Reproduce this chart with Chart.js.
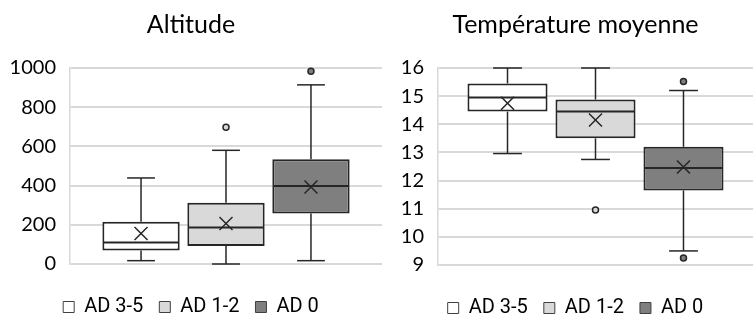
<!DOCTYPE html>
<html>
<head>
<meta charset="utf-8">
<script src="https://cdn.jsdelivr.net/npm/chart.js@4.4.0/dist/chart.umd.min.js"></script>
<style>
    html, body { margin: 0; padding: 0; background: #fff; overflow: hidden; width: 753px; height: 325px; }
    .wrap { position: absolute; top: 0; }
    #wrapAlt { left: 0; }
    #wrapTemp { left: 398px; }
</style>
</head>
<body>
<div class="wrap" id="wrapAlt"><canvas id="chartAlt" width="390" height="327"></canvas></div>
<div class="wrap" id="wrapTemp"><canvas id="chartTemp" width="355" height="328"></canvas></div>
<script>
// Groupes (séries)
const groups = ['AD 3-5', 'AD 1-2', 'AD 0'];

// Altitude (m)
const altMin = [17, 0, 17];
const altQ1 = [69, 92, 258];
const altMedian = [110, 186, 398];
const altQ3 = [215, 312, 534];
const altMax = [439, 580, 914];
const altMean = [156, 207, 393];
const altOutliers = [[], [698], [983]];
const altTicks = [0, 200, 400, 600, 800, 1000];

// Température moyenne (°C)
const tempMin = [12.96, 12.75, 9.5];
const tempQ1 = [14.45, 13.5, 11.65];
const tempMedian = [14.95, 14.45, 12.45];
const tempQ3 = [15.45, 14.88, 13.2];
const tempMax = [16, 16, 15.2];
const tempMean = [14.75, 14.15, 12.48];
const tempOutliers = [[], [10.95], [15.52, 9.25]];
const tempTicks = [9, 10, 11, 12, 13, 14, 15, 16];

// Styles
const fillColors = ['#ffffff', '#d9d9d9', '#7f7f7f'];
const lineColor = '#262626';
const gridColor = '#d9d9d9';

Chart.defaults.font.family = 'Lato, "Open Sans", sans-serif';
Chart.defaults.color = '#262626';

// Moustaches, médiane, moyenne et points isolés
function makeBoxPlugin(stats) {
    return {
        id: 'boxPlot',
        afterDatasetsDraw(chart) {
            const ctx = chart.ctx;
            const y = chart.scales.y;
            const line = (x1, y1, x2, y2) => {
                ctx.beginPath();
                ctx.moveTo(x1, y1);
                ctx.lineTo(x2, y2);
                ctx.stroke();
            };
            ctx.save();
            ctx.strokeStyle = lineColor;
            chart.data.datasets.forEach((ds, i) => {
                const bar = chart.getDatasetMeta(i).data[0];
                const x = bar.x;
                const w = bar.width;
                const cap = w * 0.18;
                const yMin = y.getPixelForValue(stats.min[i]);
                const yQ1 = y.getPixelForValue(stats.q1[i]);
                const yMed = y.getPixelForValue(stats.median[i]);
                const yQ3 = y.getPixelForValue(stats.q3[i]);
                const yMax = y.getPixelForValue(stats.max[i]);
                const yMean = y.getPixelForValue(stats.mean[i]);

                ctx.lineWidth = 1.5;
                line(x, yQ3, x, yMax);
                line(x - cap, yMax, x + cap, yMax);
                line(x, yQ1, x, yMin);
                line(x - cap, yMin, x + cap, yMin);

                ctx.lineWidth = 2;
                line(x - w / 2 + 1, yMed, x + w / 2 - 1, yMed);

                const s = 6.5;
                ctx.lineWidth = 1.5;
                line(x - s, yMean - s, x + s, yMean + s);
                line(x - s, yMean + s, x + s, yMean - s);

                stats.outliers[i].forEach(v => {
                    ctx.beginPath();
                    ctx.arc(x, y.getPixelForValue(v), 3, 0, Math.PI * 2);
                    ctx.fillStyle = fillColors[i];
                    ctx.fill();
                    ctx.stroke();
                });
            });
            ctx.restore();
        }
    };
}

function createBoxChart(canvasId, title, stats, ticks, yWidth, catPct, padRight) {
    const datasets = groups.map((g, i) => ({
        label: g,
        data: [[stats.q1[i], stats.q3[i]]],
        backgroundColor: fillColors[i],
        borderColor: lineColor,
        borderWidth: 2,
        borderSkipped: false,
        categoryPercentage: catPct,
        barPercentage: 0.91
    }));

    return new Chart(document.getElementById(canvasId), {
        type: 'bar',
        data: { labels: [''], datasets: datasets },
        options: {
            responsive: false,
            animation: false,
            layout: { padding: { left: 0, right: padRight, top: 0, bottom: 0 } },
            plugins: {
                title: {
                    display: true,
                    text: title,
                    color: '#000',
                    font: { size: 25, weight: 'normal' },
                    padding: { top: 10, bottom: 28 }
                },
                legend: {
                    position: 'bottom',
                    // titre vide : sert seulement d'espace au-dessus de la légende
                    title: { display: true, text: ' ', padding: 0, font: { size: 10, lineHeight: 1.7 } },
                    labels: {
                        boxWidth: 11,
                        boxHeight: 11,
                        padding: 16,
                        color: '#000',
                        font: { family: 'Roboto, "Liberation Sans", sans-serif', size: 20 },
                        generateLabels(chart) {
                            const items = Chart.defaults.plugins.legend.labels.generateLabels(chart);
                            items.forEach(it => { it.lineWidth = 1; it.strokeStyle = '#404040'; });
                            return items;
                        }
                    }
                },
                tooltip: { enabled: false }
            },
            scales: {
                x: { display: false },
                y: {
                    min: ticks[0],
                    max: ticks[ticks.length - 1],
                    afterBuildTicks(scale) {
                        scale.ticks = ticks.map(v => ({ value: v }));
                    },
                    afterFit(scale) {
                        scale.width = yWidth;
                    },
                    grid: { color: gridColor, lineWidth: 2, drawTicks: false },
                    border: { display: true, color: gridColor, width: 1.5 },
                    ticks: {
                        padding: 14,
                        color: '#000',
                        font: { size: 20 },
                        callback: v => String(v)
                    }
                }
            }
        },
        plugins: [makeBoxPlugin(stats)]
    });
}

createBoxChart('chartAlt', 'Altitude', {
    min: altMin, q1: altQ1, median: altMedian, q3: altQ3, max: altMax, mean: altMean, outliers: altOutliers
}, altTicks, 70, 0.817, 8);

createBoxChart('chartTemp', 'Température moyenne', {
    min: tempMin, q1: tempQ1, median: tempMedian, q3: tempQ3, max: tempMax, mean: tempMean, outliers: tempOutliers
}, tempTicks, 40, 0.838, 0);
</script>
</body>
</html>
